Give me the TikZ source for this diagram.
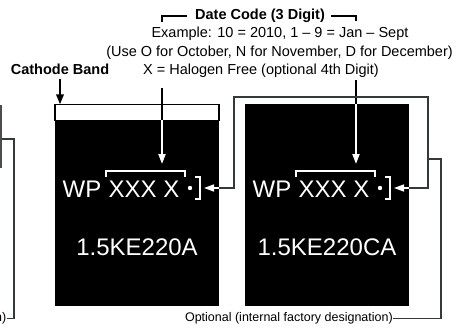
\documentclass[tikz,border=0pt]{standalone}
\usepackage{fontspec}
\setmainfont{Liberation Sans}
\usetikzlibrary{arrows.meta, calc, positioning}

\definecolor{framegray}{HTML}{343A38}

\tikzset{
  lbl/.style={font=\fontsize{14.5}{17}\selectfont, inner sep=0pt, anchor=base},
  boldlbl/.style={lbl, font=\fontsize{14.5}{17}\selectfont\bfseries},
  smalllbl/.style={font=\fontsize{12.5}{15}\selectfont, inner sep=0pt, anchor=base east},
  marking/.style={font=\fontsize{24}{28}\selectfont, text=white, inner sep=0pt, anchor=base},
  chip/.style={fill=black, inner sep=0pt, minimum width=164pt, minimum height=201pt},
  conn/.style={framegray, line width=1.4pt},
  thickconn/.style={black, line width=2.4pt},
  whitemark/.style={white, line width=1.6pt},
  inarrow/.style={white, line width=2pt, -{Triangle[length=10pt,width=7pt]}},
  downarrow/.style={black, line width=2pt, -{Triangle[length=10pt,width=7.5pt]}}
}

\begin{document}
\begin{tikzpicture}[x=1pt, y=-1pt]

\useasboundingbox (0,0) rectangle (461,329);

% the two parts, same marking layout
\foreach \c/\dx/\pn in {A/0/1.5KE220A, B/190/1.5KE220CA}{
  \begin{scope}[xshift=\dx pt]
    \node[chip] (chip\c) at (137,205) {};
    \node[marking] (wp\c) at (82,197.5) {WP};
    \node[marking] (code\c) at (144,197.5) {XXX X};
    \node[marking] (pn\c) at (137,255.5) {\pn};
    \draw[whitemark] (106,177) |- (185,171) -- (185,177);
    \fill[white] (190,188) circle (2.2pt);
    \draw[whitemark] (195,177) -| (200,199) -- (195,199);
    \coordinate (br\c) at (204,188);
  \end{scope}
}

% cathode band on the first part
\draw[black, fill=white, line width=1.5pt] (chipA.north west) rectangle ($(chipA.north east)+(0,16)$);

% top labels
\node[boldlbl] (datecode) at (260,19.5) {Date Code (3 Digit)};
\node[lbl] (example) at (280,38) {Example: 10 = 2010, 1 -- 9 = Jan -- Sept};
\node[lbl] (useo) at (279.5,57) {(Use O for October, N for November, D for December)};
\node[lbl] (halogen) at (261,75) {X = Halogen Free (optional 4th Digit)};
\node[boldlbl] (cathode) at (60,75) {Cathode Band};

% date code bracket
\draw[thickconn] ([xshift=-8pt]datecode.west) -| (162,22);
\draw[thickconn] ([xshift=6pt]datecode.east) -| (356,21);

% date code arrows into the marking
\coordinate (dcA) at (162,88);
\coordinate (dcB) at (356,80);
\draw[thickconn] (dcA) -- (162,120);
\draw[inarrow] (162,120) -- (162,164);
\draw[thickconn] (dcB) -- (dcB |- chipB.north);
\draw[inarrow] (dcB |- chipB.north) -- (356,164);

% cathode band arrow
\draw[downarrow] ([yshift=-4pt]cathode.south) -- (cathode.south |- chipA.north);

% optional designation frame
\draw[conn] (chipA.east |- brA) -- (234,188) |- (428,97) -- (428,188) -- (chipB.east |- brB);
\draw[inarrow, line width=1.5pt] (chipA.east |- brA) -- (brA);
\draw[inarrow, line width=1.5pt] (chipB.east |- brB) -- (brB);

\node[smalllbl] (optional) at (393,321.5) {Optional (internal factory designation)};
\draw[conn] (optional.east) -| (441,159) -- (428,159);

% cut-off part on the left
\node[smalllbl] (optprev) at (6.5,321.5) {Optional (internal factory designation)};
\draw[conn] (optprev.east) -| (14,139) -- (2,139);
\draw[gray!60!black, line width=2.5pt] (1.2,105) -- (1.2,168);

\end{tikzpicture}
\end{document}
